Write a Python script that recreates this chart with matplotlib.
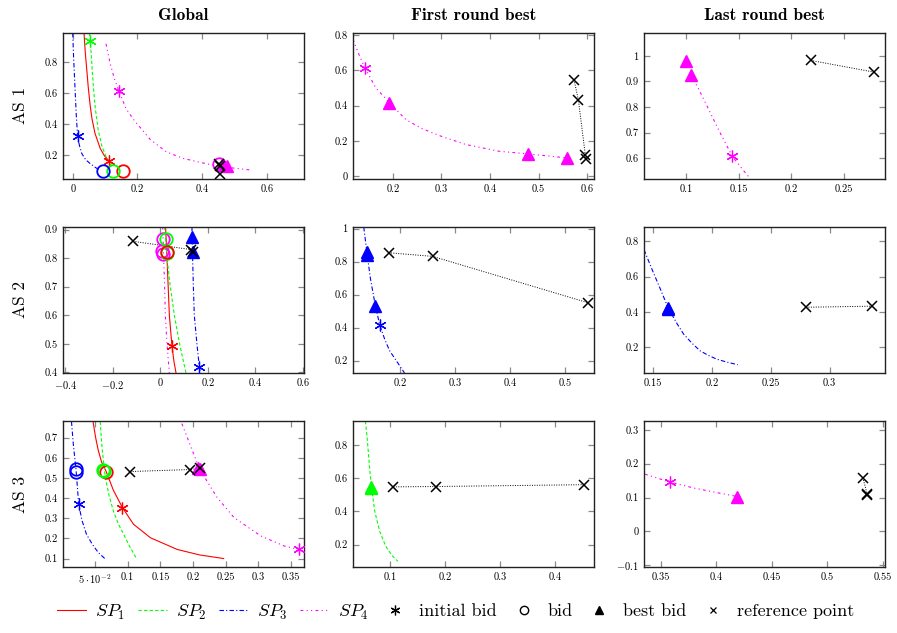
import matplotlib
matplotlib.use("Agg")
import matplotlib.pyplot as plt
from matplotlib.lines import Line2D

plt.rcParams['font.family'] = ['cmr10', 'DejaVu Serif']
plt.rcParams['mathtext.fontset'] = 'cm'
plt.rcParams['axes.formatter.use_mathtext'] = True
plt.rcParams['axes.unicode_minus'] = False

# ---------------- data ----------------
col_titles = ["Global", "First round best", "Last round best"]
row_titles = ["AS 1", "AS 2", "AS 3"]
legend_labels = ["$SP_1$", "$SP_2$", "$SP_3$", "$SP_4$", "initial bid", "bid", "best bid", "reference point"]

# AS1 / Global
a_sp1_x = [0.035, 0.039, 0.044, 0.048, 0.054, 0.060, 0.069, 0.085, 0.098, 0.112]
a_sp1_y = [0.99, 0.86, 0.74, 0.64, 0.52, 0.43, 0.34, 0.243, 0.195, 0.163]
a_sp2_x = [0.052, 0.054, 0.057, 0.060, 0.064, 0.070, 0.079, 0.090, 0.103, 0.114, 0.122]
a_sp2_y = [0.99, 0.94, 0.86, 0.76, 0.64, 0.50, 0.36, 0.26, 0.19, 0.15, 0.125]
a_sp3_x = [0.000, 0.003, 0.007, 0.011, 0.015, 0.021, 0.028, 0.040, 0.054, 0.070, 0.085]
a_sp3_y = [0.99, 0.82, 0.64, 0.46, 0.325, 0.26, 0.21, 0.17, 0.145, 0.12, 0.10]
a_sp4_x = [0.103, 0.115, 0.128, 0.143, 0.165, 0.188, 0.240, 0.290, 0.342, 0.400, 0.445, 0.500, 0.556]
a_sp4_y = [0.92, 0.80, 0.70, 0.614, 0.50, 0.43, 0.30, 0.22, 0.178, 0.15, 0.13, 0.115, 0.102]
a_init = {"SP1": ([0.112], [0.163]), "SP2": ([0.054], [0.94]), "SP3": ([0.015], [0.325]), "SP4": ([0.143], [0.614])}
a_bid = {"SP1": ([0.157], [0.098]), "SP2": ([0.126], [0.098]), "SP3": ([0.093], [0.098]), "SP4": ([0.452], [0.14])}
a_best = {"SP4": ([0.462, 0.478], [0.135, 0.128])}
a_ref_x = [0.452, 0.454, 0.454]
a_ref_y = [0.142, 0.132, 0.077]

# AS1 / First round best
b_sp4_x = [0.118, 0.130, 0.143, 0.165, 0.193, 0.227, 0.260, 0.296, 0.350, 0.418, 0.478, 0.558]
b_sp4_y = [0.775, 0.69, 0.61, 0.50, 0.416, 0.32, 0.27, 0.23, 0.18, 0.142, 0.127, 0.104]
b_init = {"SP4": ([0.143], [0.61])}
b_best = {"SP4": ([0.193, 0.478, 0.558], [0.416, 0.127, 0.104])}
b_ref_x = [0.573, 0.582, 0.596, 0.597]
b_ref_y = [0.545, 0.429, 0.123, 0.100]

# AS1 / Last round best
c_sp4_x = [0.107, 0.118, 0.131, 0.144, 0.153, 0.160]
c_sp4_y = [0.91, 0.82, 0.71, 0.607, 0.56, 0.525]
c_init = {"SP4": ([0.1438], [0.607])}
c_best = {"SP4": ([0.1003, 0.1047], [0.978, 0.925])}
c_ref_x = [0.2185, 0.279]
c_ref_y = [0.982, 0.936]

# AS2 / Global
d_sp1_x = [0.022, 0.028, 0.033, 0.038, 0.044, 0.049, 0.057, 0.066]
d_sp1_y = [0.91, 0.80, 0.70, 0.60, 0.54, 0.494, 0.44, 0.398]
d_sp2_x = [0.018, 0.028, 0.042, 0.059, 0.081, 0.108]
d_sp2_y = [0.91, 0.80, 0.70, 0.60, 0.50, 0.398]
d_sp3_x = [0.133, 0.136, 0.139, 0.143, 0.154, 0.164, 0.168]
d_sp3_y = [0.91, 0.80, 0.70, 0.60, 0.50, 0.42, 0.398]
d_sp4_x = [0.010, 0.014, 0.018, 0.021, 0.028, 0.038]
d_sp4_y = [0.91, 0.80, 0.70, 0.60, 0.50, 0.398]
d_init = {"SP1": ([0.049], [0.494]), "SP3": ([0.164], [0.42])}
d_bid = {"SP4": ([0.010, 0.008, 0.012], [0.868, 0.825, 0.815]),
         "SP2": ([0.025, 0.028], [0.868, 0.818]),
         "SP1": ([0.030], [0.820])}
d_best = {"SP3": ([0.133, 0.136], [0.874, 0.822])}
d_ref_x = [-0.115, 0.128, 0.138]
d_ref_y = [0.859, 0.830, 0.822]

# AS2 / First round best
e_sp3_x = [0.134, 0.137, 0.140, 0.146, 0.155, 0.163, 0.172, 0.181, 0.195, 0.208]
e_sp3_y = [1.01, 0.93, 0.85, 0.70, 0.534, 0.417, 0.33, 0.26, 0.19, 0.125]
e_init = {"SP3": ([0.163], [0.417])}
e_best = {"SP3": ([0.140, 0.140, 0.155], [0.858, 0.838, 0.534])}
e_ref_x = [0.179, 0.259, 0.542]
e_ref_y = [0.854, 0.832, 0.550]

# AS2 / Last round best
f_sp3_x = [0.1425, 0.150, 0.157, 0.163, 0.170, 0.176, 0.183, 0.190, 0.197, 0.204, 0.213, 0.222]
f_sp3_y = [0.753, 0.63, 0.52, 0.423, 0.34, 0.276, 0.225, 0.181, 0.155, 0.134, 0.116, 0.102]
f_best = {"SP3": ([0.163, 0.163], [0.425, 0.415])}
f_ref_x = [0.280, 0.336]
f_ref_y = [0.427, 0.433]

# AS3 / Global
g_sp1_x = [0.047, 0.051, 0.055, 0.060, 0.067, 0.078, 0.092, 0.109, 0.135, 0.176, 0.210, 0.247]
g_sp1_y = [0.78, 0.70, 0.637, 0.58, 0.533, 0.44, 0.353, 0.27, 0.203, 0.145, 0.118, 0.10]
g_sp2_x = [0.058, 0.060, 0.063, 0.066, 0.071, 0.078, 0.086, 0.094, 0.103, 0.113]
g_sp2_y = [0.78, 0.68, 0.58, 0.50, 0.42, 0.337, 0.27, 0.22, 0.16, 0.103]
g_sp3_x = [0.014, 0.017, 0.021, 0.025, 0.030, 0.037, 0.046, 0.055, 0.065]
g_sp3_y = [0.78, 0.66, 0.54, 0.37, 0.29, 0.22, 0.17, 0.13, 0.10]
g_sp4_x = [0.183, 0.195, 0.210, 0.237, 0.263, 0.304, 0.340, 0.362]
g_sp4_y = [0.77, 0.67, 0.545, 0.403, 0.303, 0.212, 0.162, 0.145]
g_init = {"SP3": ([0.025], [0.37]), "SP1": ([0.092], [0.353]), "SP4": ([0.362], [0.145])}
g_bid = {"SP3": ([0.021, 0.021], [0.545, 0.530]),
         "SP1": ([0.067], [0.528]),
         "SP2": ([0.063, 0.064], [0.540, 0.533])}
g_best = {"SP4": ([0.208, 0.211], [0.548, 0.545])}
g_ref_x = [0.104, 0.195, 0.210]
g_ref_y = [0.532, 0.542, 0.548]

# AS3 / First round best
h_sp2_x = [0.055, 0.058, 0.060, 0.063, 0.066, 0.072, 0.081, 0.092, 0.103, 0.114]
h_sp2_y = [0.943, 0.85, 0.77, 0.65, 0.547, 0.40, 0.28, 0.19, 0.135, 0.099]
h_best = {"SP2": ([0.066, 0.066], [0.547, 0.540])}
h_ref_x = [0.106, 0.183, 0.452]
h_ref_y = [0.547, 0.549, 0.560]

# AS3 / Last round best
i_sp4_x = [0.336, 0.358, 0.380, 0.400, 0.419]
i_sp4_y = [0.169, 0.146, 0.128, 0.115, 0.103]
i_init = {"SP4": ([0.358], [0.146])}
i_best = {"SP4": ([0.419], [0.103])}
i_ref_x = [0.532, 0.536, 0.536]
i_ref_y = [0.159, 0.110, 0.108]

# ticks
a_xt = [0, 0.2, 0.4, 0.6]; a_xl = ["0", "0.2", "0.4", "0.6"]
a_yt = [0.2, 0.4, 0.6, 0.8]; a_yl = ["0.2", "0.4", "0.6", "0.8"]
b_xt = [0.2, 0.3, 0.4, 0.5, 0.6]; b_xl = ["0.2", "0.3", "0.4", "0.5", "0.6"]
b_yt = [0, 0.2, 0.4, 0.6, 0.8]; b_yl = ["0", "0.2", "0.4", "0.6", "0.8"]
c_xt = [0.1, 0.15, 0.2, 0.25]; c_xl = ["0.1", "0.15", "0.2", "0.25"]
c_yt = [0.6, 0.7, 0.8, 0.9, 1.0]; c_yl = ["0.6", "0.7", "0.8", "0.9", "1"]
d_xt = [-0.4, -0.2, 0, 0.2, 0.4, 0.6]; d_xl = ["$-0.4$", "$-0.2$", "0", "0.2", "0.4", "0.6"]
d_yt = [0.4, 0.5, 0.6, 0.7, 0.8, 0.9]; d_yl = ["0.4", "0.5", "0.6", "0.7", "0.8", "0.9"]
e_xt = [0.2, 0.3, 0.4, 0.5]; e_xl = ["0.2", "0.3", "0.4", "0.5"]
e_yt = [0.2, 0.4, 0.6, 0.8, 1.0]; e_yl = ["0.2", "0.4", "0.6", "0.8", "1"]
f_xt = [0.15, 0.2, 0.25, 0.3]; f_xl = ["0.15", "0.2", "0.25", "0.3"]
f_yt = [0.2, 0.4, 0.6, 0.8]; f_yl = ["0.2", "0.4", "0.6", "0.8"]
g_xt = [0.05, 0.1, 0.15, 0.2, 0.25, 0.3, 0.35]
g_xl = [r"$5\cdot10^{-2}$", "0.1", "0.15", "0.2", "0.25", "0.3", "0.35"]
g_yt = [0.1, 0.2, 0.3, 0.4, 0.5, 0.6, 0.7]; g_yl = ["0.1", "0.2", "0.3", "0.4", "0.5", "0.6", "0.7"]
h_xt = [0.1, 0.2, 0.3, 0.4]; h_xl = ["0.1", "0.2", "0.3", "0.4"]
h_yt = [0.2, 0.4, 0.6, 0.8]; h_yl = ["0.2", "0.4", "0.6", "0.8"]
i_xt = [0.35, 0.4, 0.45, 0.5, 0.55]; i_xl = ["0.35", "0.4", "0.45", "0.5", "0.55"]
i_yt = [-0.1, 0, 0.1, 0.2, 0.3]; i_yl = ["$-0.1$", "0", "0.1", "0.2", "0.3"]

# ---------------- styles ----------------
W, H = 897, 633
STY = {
    "SP1": dict(color="#ff0000", ls="-"),
    "SP2": dict(color="#00ff00", ls=(0, (3, 2))),
    "SP3": dict(color="#0000ff", ls=(0, (4, 2, 1, 2))),
    "SP4": dict(color="#ff00ff", ls=(0, (2.5, 3, 1, 3, 1, 3))),
}
LW = 0.8
AST = (6, 2, 0)

fig = plt.figure(figsize=(W / 100, H / 100), dpi=100)

col_l = [63, 353, 644]
col_w = 241
row_t = [33, 227, 421]
row_h = 146


def make_ax(r, c):
    l = col_l[c]; t = row_t[r]
    ax = fig.add_axes([l / W, 1 - (t + row_h) / H, col_w / W, row_h / H])
    ax.tick_params(direction="in", top=True, right=True, length=4, width=0.9,
                   color="#8a8a8a", labelsize=7.5, pad=4)
    for s in ax.spines.values():
        s.set_linewidth(1.0)
        s.set_color("#222222")
    return ax


def draw(ax, curves, init, bid, best, refx, refy, xlim, ylim, xt, xl, yt, yl):
    for name, (x, y) in curves.items():
        ax.plot(x, y, color=STY[name]["color"], ls=STY[name]["ls"], lw=LW, zorder=2)
    ax.plot(refx, refy, color="black", ls=(0, (1, 1.5)), lw=0.7, zorder=3)
    ax.plot(refx, refy, color="black", ls="none", marker="x", ms=6.5, mew=1.1, zorder=5)
    for name, (x, y) in init.items():
        ax.plot(x, y, ls="none", marker=AST, ms=8.5, mew=0.9, color=STY[name]["color"], zorder=4)
    for name, (x, y) in bid.items():
        ax.plot(x, y, ls="none", marker="o", ms=9, mew=1.3, mfc="none",
                mec=STY[name]["color"], zorder=4)
    for name, (x, y) in best.items():
        ax.plot(x, y, ls="none", marker="^", ms=8, color=STY[name]["color"], zorder=4)
    ax.set_xlim(*xlim)
    ax.set_ylim(*ylim)
    ax.set_xticks(xt)
    ax.set_xticklabels(xl)
    ax.set_yticks(yt)
    ax.set_yticklabels(yl)


ax = make_ax(0, 0)
draw(ax, {"SP1": (a_sp1_x, a_sp1_y), "SP2": (a_sp2_x, a_sp2_y), "SP3": (a_sp3_x, a_sp3_y),
          "SP4": (a_sp4_x, a_sp4_y)}, a_init, a_bid, a_best, a_ref_x, a_ref_y,
     (-0.03, 0.715), (0.045, 0.99), a_xt, a_xl, a_yt, a_yl)
ax = make_ax(0, 1)
draw(ax, {"SP4": (b_sp4_x, b_sp4_y)}, b_init, {}, b_best, b_ref_x, b_ref_y,
     (0.118, 0.614), (-0.015, 0.81), b_xt, b_xl, b_yt, b_yl)
ax = make_ax(0, 2)
draw(ax, {"SP4": (c_sp4_x, c_sp4_y)}, c_init, {}, c_best, c_ref_x, c_ref_y,
     (0.060, 0.289), (0.519, 1.089), c_xt, c_xl, c_yt, c_yl)
ax = make_ax(1, 0)
draw(ax, {"SP1": (d_sp1_x, d_sp1_y), "SP2": (d_sp2_x, d_sp2_y), "SP3": (d_sp3_x, d_sp3_y),
          "SP4": (d_sp4_x, d_sp4_y)}, d_init, d_bid, d_best, d_ref_x, d_ref_y,
     (-0.41, 0.605), (0.398, 0.909), d_xt, d_xl, d_yt, d_yl)
ax = make_ax(1, 1)
draw(ax, {"SP3": (e_sp3_x, e_sp3_y)}, e_init, {}, e_best, e_ref_x, e_ref_y,
     (0.1145, 0.552), (0.125, 1.01), e_xt, e_xl, e_yt, e_yl)
ax = make_ax(1, 2)
draw(ax, {"SP3": (f_sp3_x, f_sp3_y)}, {}, {}, f_best, f_ref_x, f_ref_y,
     (0.1425, 0.347), (0.055, 0.881), f_xt, f_xl, f_yt, f_yl)
ax = make_ax(2, 0)
draw(ax, {"SP1": (g_sp1_x, g_sp1_y), "SP2": (g_sp2_x, g_sp2_y), "SP3": (g_sp3_x, g_sp3_y),
          "SP4": (g_sp4_x, g_sp4_y)}, g_init, g_bid, g_best, g_ref_x, g_ref_y,
     (0.001, 0.37), (0.058, 0.783), g_xt, g_xl, g_yt, g_yl)
ax = make_ax(2, 1)
draw(ax, {"SP2": (h_sp2_x, h_sp2_y)}, {}, {}, h_best, h_ref_x, h_ref_y,
     (0.0325, 0.4705), (0.065, 0.943), h_xt, h_xl, h_yt, h_yl)
ax = make_ax(2, 2)
draw(ax, {"SP4": (i_sp4_x, i_sp4_y)}, i_init, {}, i_best, i_ref_x, i_ref_y,
     (0.335, 0.552), (-0.105, 0.326), i_xt, i_xl, i_yt, i_yl)

# titles
for c, t in enumerate(col_titles):
    fig.text((col_l[c] + col_w / 2) / W, 1 - 15 / H, t, ha="center", va="center",
             fontsize=12.5, family="cmb10")
for r, t in enumerate(row_titles):
    fig.text(20 / W, 1 - (row_t[r] + row_h / 2) / H, t, ha="center", va="center",
             rotation=90, fontsize=12.5)

# legend
handles = [
    Line2D([], [], color=STY["SP1"]["color"], ls=STY["SP1"]["ls"], lw=LW),
    Line2D([], [], color=STY["SP2"]["color"], ls=STY["SP2"]["ls"], lw=LW),
    Line2D([], [], color=STY["SP3"]["color"], ls=STY["SP3"]["ls"], lw=LW),
    Line2D([], [], color=STY["SP4"]["color"], ls=STY["SP4"]["ls"], lw=LW),
    Line2D([], [], color="black", ls="none", marker=AST, ms=7, mew=0.9),
    Line2D([], [], color="black", ls="none", marker="o", ms=6, mfc="none", mew=1.0),
    Line2D([], [], color="black", ls="none", marker="^", ms=6),
    Line2D([], [], color="black", ls="none", marker="x", ms=5, mew=0.9),
]
fig.legend(handles, legend_labels, loc="center", bbox_to_anchor=(0.508, 1 - 612 / H),
           ncol=8, frameon=False, fontsize=13, handlelength=1.6, handletextpad=0.5,
           columnspacing=0.7)

fig.savefig("out.png", dpi=100)
